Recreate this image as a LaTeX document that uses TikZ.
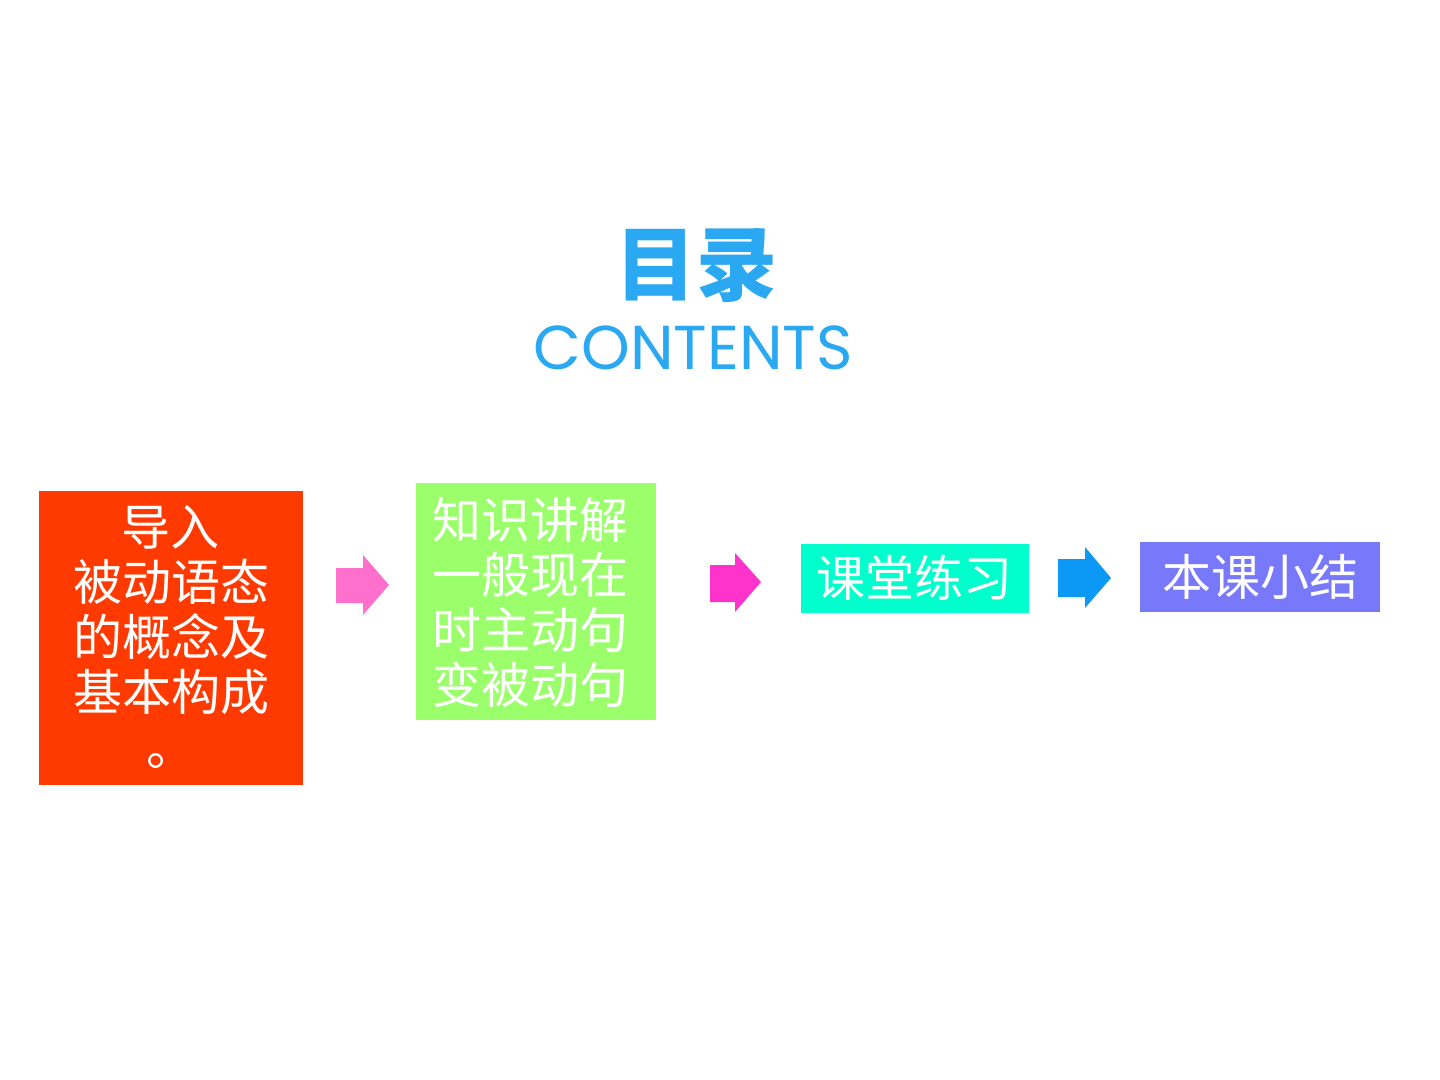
\documentclass[tikz,border=0pt]{standalone}
\usepackage{fontspec}
\newfontfamily\cjk{Noto Sans CJK SC}
\newfontfamily\latinsans{Poppins}
\definecolor{titleblue}{HTML}{2AA8F2}
\definecolor{boxred}{HTML}{FF3A00}
\definecolor{boxgreen}{HTML}{9AFF6A}
\definecolor{boxteal}{HTML}{00FFCC}
\definecolor{boxpurple}{HTML}{7878FA}
\definecolor{arrowpink}{HTML}{FF70CC}
\definecolor{arrowmagenta}{HTML}{FF33CC}
\definecolor{arrowblue}{HTML}{0C99F5}
\begin{document}
\begin{tikzpicture}[x=0.5pt,y=-0.5pt,
  panel/.style={draw=none,rectangle,inner sep=0pt,anchor=north west},
  label/.style={text=white,font=\cjk\fontsize{24.5pt}{27.5pt}\selectfont,align=center,inner sep=0pt}]
\useasboundingbox (0,0) rectangle (1440,1080);
\fill[white] (0,0) rectangle (1440,1080);
% title
\node[text=titleblue,font=\cjk\bfseries\fontsize{40.5pt}{41pt}\selectfont,inner sep=0pt] (title) at (696,266) {目录};
\node[text=titleblue,font=\latinsans\fontsize{31pt}{32pt}\selectfont,inner sep=0pt] (contents) at (693,348) {CONTENTS};
% boxes
\node[panel,fill=boxred,minimum width=132pt,minimum height=147pt] (b1) at (39,491) {};
\node[panel,fill=boxgreen,minimum width=120pt,minimum height=118.5pt] (b2) at (416,483) {};
\node[panel,fill=boxteal,minimum width=114pt,minimum height=34.5pt] (b3) at (801,544) {};
\node[panel,fill=boxpurple,minimum width=120pt,minimum height=35pt] (b4) at (1140,542) {};
% texts
\node[label] (t1) at (171,637) {导入\\被动语态\\的概念及\\基本构成\\。};
\node[label] (t2) at (530,602) {知识讲解\\一般现在\\时主动句\\变被动句};
\node[label] (t3) at (914,578) {课堂练习};
\node[label] (t4) at (1260,577) {本课小结};
% arrows
\fill[arrowpink] (336,568) -- (363,568) -- (363,555) -- (389,585) -- (363,615) -- (363,603) -- (336,603) -- cycle;
\fill[arrowmagenta] (710,565) -- (735,565) -- (735,553) -- (761,582) -- (735,612) -- (735,602) -- (710,602) -- cycle;
\fill[arrowblue] (1058,559) -- (1085,559) -- (1085,547) -- (1111,578) -- (1085,608) -- (1085,597) -- (1058,597) -- cycle;
\end{tikzpicture}
\end{document}
